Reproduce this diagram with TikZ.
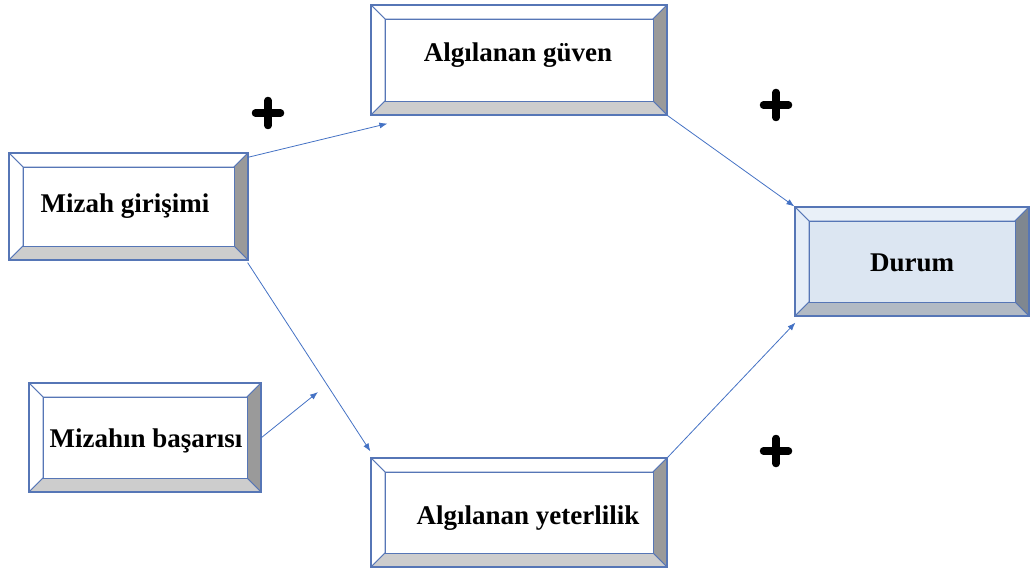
\documentclass[tikz,border=0pt]{standalone}
\usepackage{fontspec}
\setmainfont{Liberation Serif}
\usetikzlibrary{arrows.meta,calc}

\definecolor{edgeblue}{HTML}{5676B6}
\definecolor{linkblue}{HTML}{4472C4}
\definecolor{shadeR}{HTML}{9A9A9A}
\definecolor{shadeB}{HTML}{CDCDCD}
\definecolor{skyface}{HTML}{DCE6F2}
\definecolor{skytop}{HTML}{E9F0F8}
\definecolor{skyleft}{HTML}{E6EEF8}
\definecolor{slateR}{HTML}{7F8790}
\definecolor{slateB}{HTML}{B2BAC4}

\tikzset{
  bevel/.store in=\bevelsize, bevel=14pt,
  facet top/.store in=\ftop, facet left/.store in=\fleft,
  facet right/.store in=\fright, facet bottom/.store in=\fbottom,
  facet face/.store in=\fface,
  facet top=white, facet left=white, facet right=shadeR,
  facet bottom=shadeB, facet face=white,
  sky/.style={facet top=skytop, facet left=skyleft, facet right=slateR,
              facet bottom=slateB, facet face=skyface},
  facetline/.style={draw=edgeblue, line width=0.9pt, line join=miter},
  bevelbox/.style 2 args={rectangle, inner sep=0pt, minimum width=#1,
    minimum height=#2, draw=edgeblue, line width=1.2pt,
    path picture={
      \coordinate (o-nw) at (path picture bounding box.north west);
      \coordinate (o-ne) at (path picture bounding box.north east);
      \coordinate (o-sw) at (path picture bounding box.south west);
      \coordinate (o-se) at (path picture bounding box.south east);
      \coordinate (i-nw) at ([xshift=\bevelsize,yshift=-\bevelsize]o-nw);
      \coordinate (i-ne) at ([xshift=-\bevelsize,yshift=-\bevelsize]o-ne);
      \coordinate (i-sw) at ([xshift=\bevelsize,yshift=\bevelsize]o-sw);
      \coordinate (i-se) at ([xshift=-\bevelsize,yshift=\bevelsize]o-se);
      \filldraw[facetline, fill=\ftop] (o-nw) -- (o-ne) -- (i-ne) -- (i-nw) -- cycle;
      \filldraw[facetline, fill=\fleft] (o-nw) -- (i-nw) -- (i-sw) -- (o-sw) -- cycle;
      \filldraw[facetline, fill=\fright] (o-ne) -- (o-se) -- (i-se) -- (i-ne) -- cycle;
      \filldraw[facetline, fill=\fbottom] (o-sw) -- (i-sw) -- (i-se) -- (o-se) -- cycle;
      \filldraw[facetline, fill=\fface] (i-nw) rectangle (i-se);
    }},
  boxtext/.style={font=\bfseries\fontsize{27}{30}\selectfont, inner sep=0pt},
  link/.style={draw=linkblue, line width=0.8pt,
    -{Latex[length=8pt,width=6pt]}},
  pics/plusmark/.style={code={
    \draw[line width=7.5pt, line cap=round] (-12.5,0) -- (12.5,0);
    \draw[line width=7.5pt, line cap=round] (0,-12.5) -- (0,12.5);
  }}
}

\begin{document}
\begin{tikzpicture}[x=1pt, y=-1pt]
  \useasboundingbox (0,0) rectangle (1031,572);

  % boxes
  \node[bevelbox={296}{110}] (guven) at (519,60) {};
  \node[bevelbox={234}{109}, sky] (durum) at (912,261.5) {};
  \node[bevelbox={239}{107}] (girisim) at (128.5,206.5) {};
  \node[bevelbox={232}{109}] (basari) at (145,437.5) {};
  \node[bevelbox={296}{109}] (yeter) at (519,512.5) {};

  % captions
  \node[boxtext] (guven-t)   at (518,55)  {Algılanan güven};
  \node[boxtext] (durum-t)   at (912,263) {Durum};
  \node[boxtext] (girisim-t) at (125,206) {Mizah girişimi};
  \node[boxtext] (basari-t)  at (146,441) {Mizahın başarısı};
  \node[boxtext] (yeter-t)   at (528,518) {Algılanan yeterlilik};

  % moderation target point
  \coordinate (mod) at (318,392);

  % links
  \draw[link] ([shift={(-1,5)}]girisim.north east) -- ([shift={(17,8)}]guven.south west);
  \draw[link] (guven.south east) -- (durum.north west);
  \draw[link] ([shift={(-1,2)}]girisim.south east) -- ([shift={(0,-6)}]yeter.north west);
  \draw[link] (basari.east) -- (mod);
  \draw[link] (yeter.north east) -- ([shift={(1,6)}]durum.south west);

  % signs
  \pic (plusA) at (268,113) {plusmark};
  \pic (plusB) at (776,105) {plusmark};
  \pic (plusC) at (776,451) {plusmark};
\end{tikzpicture}
\end{document}
